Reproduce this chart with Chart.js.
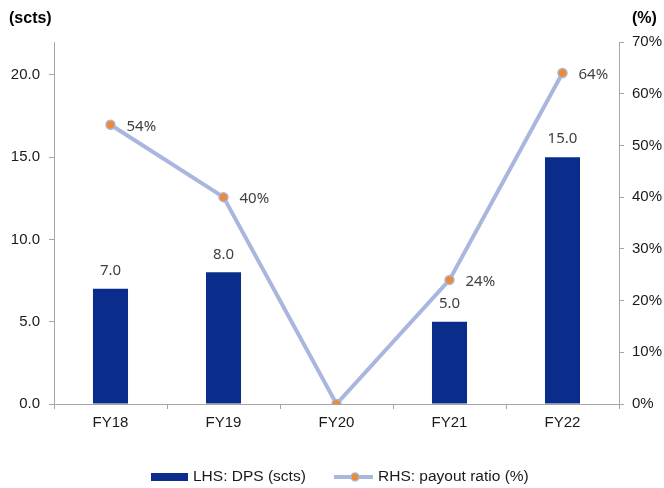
<!DOCTYPE html>
<html><head><meta charset="utf-8">
<script src="https://cdn.jsdelivr.net/npm/chart.js@4/dist/chart.umd.min.js"></script>
<style>html,body{margin:0;padding:0;background:#fff}#w{width:664px;height:488px}</style>
</head><body><div id="w"><canvas id="c" width="664" height="488"></canvas></div>
<script>
const categories = ["FY18","FY19","FY20","FY21","FY22"];
const dps = [7.0, 8.0, 0, 5.0, 15.0];
const payout = [54, 40, 0, 24, 64];
const leftTicks = [0, 5, 10, 15, 20];
const rightTicks = [0, 10, 20, 30, 40, 50, 60, 70];

const FONT = "'Liberation Sans', Arial, sans-serif";
const BAR = "#0A2D8C", LINE = "#A9B6DE", DOT = "#F08A32";

const extras = {
  id: 'extras',
  afterDatasetsDraw(chart) {
    const ctx = chart.ctx;
    ctx.save();
    ctx.font = "15px 'Noto Sans', 'Liberation Sans', sans-serif";
    ctx.fillStyle = "#404040";
    const m0 = chart.getDatasetMeta(0);
    m0.data.forEach((b, i) => {
      if (!dps[i]) return;
      ctx.textAlign = 'center'; ctx.textBaseline = 'middle';
      ctx.fillText(dps[i].toFixed(1), b.x, b.y - 18);
    });
    const m1 = chart.getDatasetMeta(1);
    m1.data.forEach((p, i) => {
      if (!payout[i]) return;
      ctx.textAlign = 'left'; ctx.textBaseline = 'middle';
      ctx.fillText(payout[i] + '%', p.x + 16, p.y + 2);
    });
    ctx.restore();
  },
  afterDraw(chart) {
    const ctx = chart.ctx;
    ctx.save();
    ctx.fillStyle = "#000";
    ctx.font = "bold 16px " + FONT;
    ctx.textBaseline = 'middle';
    ctx.textAlign = 'left';
    ctx.fillText("(scts)", 9, 19);
    ctx.fillText("(%)", 632, 19);
    // legend
    const ly = 477;
    ctx.fillStyle = BAR;
    ctx.fillRect(151, ly - 4, 37, 8);
    ctx.font = "15.5px " + FONT;
    ctx.fillStyle = "#1a1a1a";
    ctx.fillText("LHS: DPS (scts)", 193, ly);
    ctx.strokeStyle = LINE; ctx.lineWidth = 4;
    ctx.beginPath(); ctx.moveTo(334, ly); ctx.lineTo(373, ly); ctx.stroke();
    ctx.fillStyle = DOT; ctx.strokeStyle = LINE; ctx.lineWidth = 1.5;
    ctx.beginPath(); ctx.arc(355, ly, 4, 0, Math.PI * 2); ctx.fill(); ctx.stroke();
    ctx.fillStyle = "#1a1a1a";
    ctx.fillText("RHS: payout ratio (%)", 378, ly);
    ctx.restore();
  }
};

new Chart(document.getElementById('c'), {
  data: {
    labels: categories,
    datasets: [
      { type: 'bar', label: 'LHS: DPS (scts)', data: dps, backgroundColor: BAR, yAxisID: 'y', barPercentage: 0.31, categoryPercentage: 1, order: 2 },
      { type: 'line', label: 'RHS: payout ratio (%)', data: payout, yAxisID: 'y1', borderColor: LINE, borderWidth: 4, pointRadius: 4.5, pointBackgroundColor: DOT, pointBorderColor: LINE, pointBorderWidth: 1.5, tension: 0, order: 1 }
    ]
  },
  options: {
    responsive: false, animation: false,
    layout: { padding: { top: 42, left: 0, right: 0, bottom: 0 } },
    plugins: { legend: { display: false }, tooltip: { enabled: false } },
    scales: {
      x: {
        offset: true,
        grid: { display: true, drawOnChartArea: false, offset: true, tickLength: 5, color: '#A6A6A6' },
        border: { color: '#A6A6A6', width: 1 },
        ticks: { font: { family: FONT, size: 15 }, color: '#1a1a1a', padding: 5, maxRotation: 0 },
        afterFit(s) { s.height = 84; }
      },
      y: {
        position: 'left', min: 0, max: 22,
        afterBuildTicks(s) { s.ticks = leftTicks.map(v => ({ value: v })); },
        grid: { display: true, drawOnChartArea: false, tickLength: 5, color: '#A6A6A6' },
        border: { color: '#A6A6A6', width: 1 },
        ticks: { font: { family: FONT, size: 15 }, color: '#1a1a1a', padding: 9, callback: v => v.toFixed(1) },
        afterFit(s) { s.width = 54; }
      },
      y1: {
        position: 'right', min: 0, max: 70,
        afterBuildTicks(s) { s.ticks = rightTicks.map(v => ({ value: v })); },
        grid: { display: true, drawOnChartArea: false, tickLength: 5, color: '#A6A6A6' },
        border: { color: '#A6A6A6', width: 1 },
        ticks: { font: { family: FONT, size: 15 }, color: '#1a1a1a', padding: 8, callback: v => v + '%' },
        afterFit(s) { s.width = 45; }
      }
    }
  },
  plugins: [extras]
});
</script></body></html>
